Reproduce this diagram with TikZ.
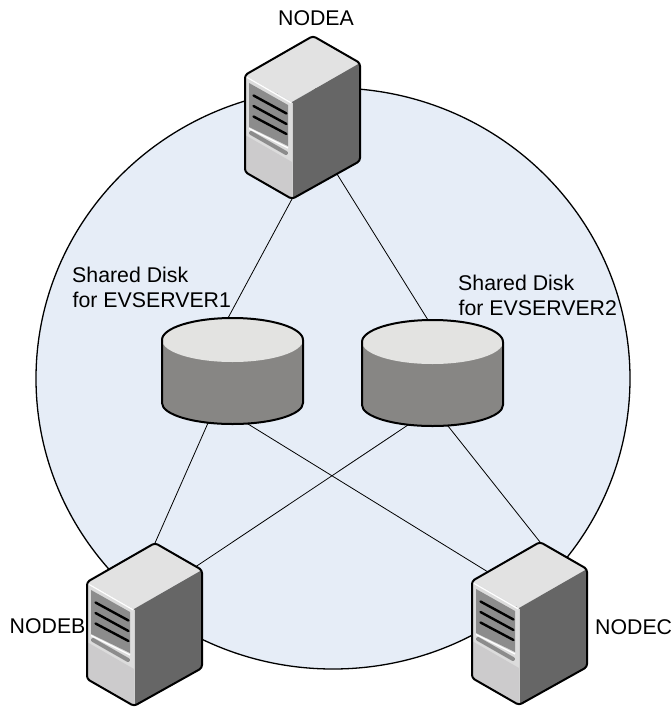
\documentclass[tikz,border=0pt]{standalone}
\usepackage{fontspec}
\setmainfont{Liberation Sans}
\usetikzlibrary{shapes.geometric}
\definecolor{bgblue}{HTML}{E6EDF7}
\definecolor{topgray}{HTML}{E2E2E2}
\definecolor{frontgray}{HTML}{DCDCDC}
\definecolor{frontlow}{HTML}{CCCBCC}
\definecolor{sidegray}{HTML}{666666}
\definecolor{grillegray}{HTML}{8C8C8C}
\definecolor{disktop}{HTML}{E3E3E1}
\definecolor{diskbody}{HTML}{878684}
\pgfdeclarelayer{ringlayer}
\pgfdeclarelayer{connlayer}
\pgfsetlayers{ringlayer,connlayer,main}
\tikzset{
  lbl/.style={font=\fontsize{21.3}{25}\selectfont, inner sep=0pt, text=black},
  conn/.style={draw=black, line width=0.8pt},
  server/.pic={
    \fill[topgray] (0,0) -- (68,-39) -- (115,-12) -- (47,27) -- cycle;
    \fill[sidegray] (47,27) -- (115,-12) -- (115,86) -- (47,124) -- cycle;
    \fill[frontgray] (0,0) -- (47,27) -- (47,124) -- (0,97) -- cycle;
    \fill[frontlow] (0,60) -- (47,87) -- (47,124) -- (0,97) -- cycle;
    \draw[white, line width=1.2pt] (1,1.8) -- (46,27.8);
    \draw[white!70!sidegray, line width=1pt] (47.5,28) -- (47.5,123);
    \fill[grillegray] (4,8) -- (43,30) -- (43,71) -- (4,52) -- cycle;
    \draw[white, line width=1.2pt] (4,53.5) -- (43,73);
    \draw[black, line width=2.4pt, line cap=round]
      (8.5,20.5) -- (41.5,38.5) (8.5,31) -- (41.5,49) (8.5,41.5) -- (41.5,59);
    \draw[grillegray, line width=4pt, line cap=round] (6,58) -- (41,78);
    \draw[line width=2pt, line join=round, rounded corners=3pt]
      (0,0) -- (68,-39) -- (115,-12) -- (115,86) -- (47,124) -- (0,97) -- cycle;
    \coordinate (-topv) at (68,-39);
    \coordinate (-botv) at (47,124);
    \coordinate (-side) at (92,99);
    \coordinate (-tre) at (109,-15.5);
    \coordinate (-tle) at (16,-9);
  },
  disk/.pic={
    \fill[diskbody] (-70.5,0) -- (-70.5,63)
      arc[start angle=180, end angle=0, x radius=70.5, y radius=21] -- (70.5,0) -- cycle;
    \fill[disktop] (0,0) ellipse [x radius=70.5, y radius=22];
    \draw[line width=2pt, line join=round]
      (70.5,0) arc[start angle=0, end angle=-180, x radius=70.5, y radius=22]
      -- (-70.5,63) arc[start angle=180, end angle=0, x radius=70.5, y radius=21] -- cycle;
    \coordinate (-top) at (-4.5,-22);
    \coordinate (-bl) at (-24.5,83);
    \coordinate (-br) at (15.5,84);
  }
}
\begin{document}
\begin{tikzpicture}[x=1pt,y=-1pt]
\useasboundingbox (0,0) rectangle (672,707);
% background circle
\begin{pgfonlayer}{ringlayer}
\node[draw=black, line width=1.3pt, fill=bgblue, ellipse, inner sep=0pt,
      minimum width=594pt, minimum height=581pt] (ring) at (333,378.5) {};
\end{pgfonlayer}
% server anchors (front top-left corner)
\coordinate (PA) at (245,75);
\coordinate (PB) at (87,582);
\coordinate (PC) at (472,581);
\coordinate (PD1) at (232.5,340);
\coordinate (PD2) at (432.5,342);
% shapes
\pic (D1) at (PD1) {disk};
\pic (D2) at (PD2) {disk};
\pic (A) at (PA) {server};
\pic (B) at (PB) {server};
\pic (C) at (PC) {server};
% connectors (drawn below shapes)
\begin{pgfonlayer}{connlayer}
\draw[conn] (A-botv) -- (D1-top);
\draw[conn] (A-side) -- (D2-top);
\draw[conn] (D1-bl) -- (B-topv);
\draw[conn] (D1-br) -- (C-tle);
\draw[conn] (D2-bl) -- (B-tre);
\draw[conn] (D2-br) -- (C-topv);
\end{pgfonlayer}
% labels
\node[lbl, anchor=base] (la) at (316,25) {NODEA};
\node[lbl, anchor=base west] (lb) at (9.5,633) {NODEB};
\node[lbl, anchor=base west] (lc) at (595,634) {NODEC};
\node[lbl, anchor=base west] (l1a) at (72,282) {Shared Disk};
\node[lbl, anchor=base west] (l1b) at (72.5,307) {for EVSERVER1};
\node[lbl, anchor=base west] (l2a) at (458,290) {Shared Disk};
\node[lbl, anchor=base west] (l2b) at (458.5,315) {for EVSERVER2};
\end{tikzpicture}
\end{document}
